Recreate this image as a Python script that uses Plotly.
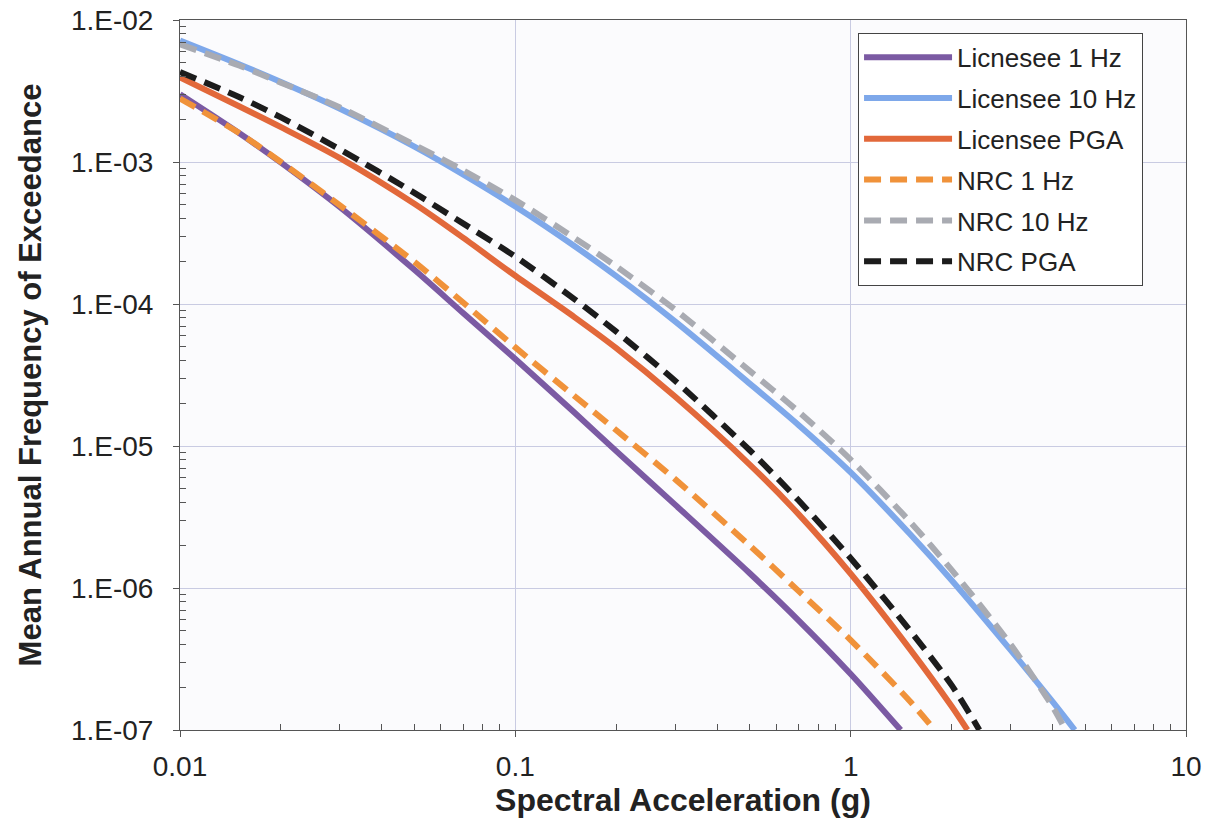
import plotly.graph_objects as go

# ---- data (Sa in g, mean annual frequency of exceedance) ----
x_lic_1hz = [0.01, 0.015, 0.02, 0.03, 0.05, 0.07, 0.1, 0.15, 0.2, 0.3, 0.5, 0.7, 1.0, 1.41]
y_lic_1hz = [3.0e-3, 1.6e-3, 9.9e-4, 4.8e-4, 1.74e-4, 8.6e-5, 4.1e-5, 1.72e-5, 9.2e-6,
             3.85e-6, 1.27e-6, 5.9e-7, 2.48e-7, 1.0e-7]

x_lic_10hz = [0.01, 0.015, 0.02, 0.03, 0.05, 0.07, 0.1, 0.15, 0.2, 0.3, 0.5, 0.7, 1.0, 1.5,
              2.0, 3.0, 4.0, 4.66]
y_lic_10hz = [7.17e-3, 4.88e-3, 3.66e-3, 2.37e-3, 1.284e-3, 8.15e-4, 4.86e-4, 2.56e-4, 1.57e-4,
              7.51e-5, 2.75e-5, 1.40e-5, 6.52e-6, 2.41e-6, 1.135e-6, 3.65e-7, 1.585e-7, 1.0e-7]

x_lic_pga = [0.01, 0.015, 0.02, 0.03, 0.05, 0.07, 0.1, 0.15, 0.2, 0.3, 0.5, 0.7, 1.0, 1.5,
             2.0, 2.23]
y_lic_pga = [3.94e-3, 2.47e-3, 1.76e-3, 1.065e-3, 5.08e-4, 2.92e-4, 1.58e-4, 8.09e-5, 4.89e-5,
             2.22e-5, 7.4e-6, 3.3e-6, 1.26e-6, 3.73e-7, 1.47e-7, 1.0e-7]

x_nrc_1hz = [0.01, 0.015, 0.02, 0.03, 0.05, 0.07, 0.1, 0.15, 0.2, 0.3, 0.5, 0.7, 1.0, 1.5, 1.78]
y_nrc_1hz = [2.8e-3, 1.6e-3, 1.0e-3, 4.95e-4, 1.98e-4, 1.02e-4, 4.95e-5, 2.25e-5, 1.29e-5,
             5.82e-6, 1.99e-6, 9.5e-7, 4.3e-7, 1.6e-7, 1.0e-7]

x_nrc_10hz = [0.01, 0.015, 0.02, 0.03, 0.05, 0.07, 0.1, 0.15, 0.2, 0.3, 0.5, 0.7, 1.0, 1.5,
              2.0, 3.0, 4.0, 4.37]
y_nrc_10hz = [6.74e-3, 4.78e-3, 3.62e-3, 2.42e-3, 1.32e-3, 8.72e-4, 5.39e-4, 2.92e-4, 1.84e-4,
              9.09e-5, 3.38e-5, 1.74e-5, 8.02e-6, 2.94e-6, 1.34e-6, 4.0e-7, 1.46e-7, 1.0e-7]

x_nrc_pga = [0.01, 0.015, 0.02, 0.03, 0.05, 0.07, 0.1, 0.15, 0.2, 0.3, 0.5, 0.7, 1.0, 1.5,
             2.0, 2.42]
y_nrc_pga = [4.3e-3, 2.87e-3, 2.06e-3, 1.226e-3, 6.06e-4, 3.68e-4, 2.156e-4, 1.082e-4, 6.38e-5,
             2.87e-5, 9.33e-6, 4.13e-6, 1.62e-6, 5.05e-7, 2.07e-7, 1.0e-7]

series_names = ["Licnesee 1 Hz", "Licensee 10 Hz", "Licensee PGA",
                "NRC 1 Hz", "NRC 10 Hz", "NRC PGA"]

x_tick_vals = [0.01, 0.1, 1, 10]
x_tick_text = ["0.01", "0.1", "1", "10"]
y_tick_vals = [1e-7, 1e-6, 1e-5, 1e-4, 1e-3, 1e-2]
y_tick_text = ["1.E-07", "1.E-06", "1.E-05", "1.E-04", "1.E-03", "1.E-02"]

# ---- styling ----
colors = ["#7b5aa3", "#7ea8ea", "#e2683a", "#f0923a", "#a9abb2", "#1c1c1c"]
dashes = ["solid", "solid", "solid", "17px,9px", "17px,9px", "17px,9px"]
xs_all = [x_lic_1hz, x_lic_10hz, x_lic_pga, x_nrc_1hz, x_nrc_10hz, x_nrc_pga]
ys_all = [y_lic_1hz, y_lic_10hz, y_lic_pga, y_nrc_1hz, y_nrc_10hz, y_nrc_pga]

FONT = "Liberation Sans, Arial, sans-serif"

fig = go.Figure()
for name, xs, ys, c, d in zip(series_names, xs_all, ys_all, colors, dashes):
    fig.add_trace(go.Scatter(
        x=xs, y=ys, mode="lines", name=name, legendgroup=name,
        line=dict(color=c, width=6, dash=d, shape="spline", smoothing=0.8),
    ))

x_minor = [k * 10.0 ** e for e in range(-2, 1) for k in range(2, 10)]
y_minor = [k * 10.0 ** e for e in range(-7, -2) for k in range(2, 10)]

axis_common = dict(
    type="log", showline=True, linecolor="#555", linewidth=1, mirror=True,
    showgrid=True, gridcolor="#c9cbe2", gridwidth=1,
    ticks="outside", ticklen=6, tickcolor="#555", tickwidth=1,
    tickfont=dict(family=FONT, size=28, color="#222"),
    zeroline=False, automargin=False,
)

fig.update_layout(
    width=1213, height=828,
    margin=dict(l=180, r=27, t=20, b=98),
    paper_bgcolor="white", plot_bgcolor="#fbfbfd",
    font=dict(family=FONT, color="#222"),
    xaxis=dict(
        **axis_common, range=[-2, 1],
        tickmode="array", tickvals=x_tick_vals, ticktext=x_tick_text,
        ticklabelstandoff=5,
        minor=dict(tickmode="array", tickvals=x_minor, ticks="inside", ticklen=6,
                   tickcolor="#555", showgrid=False),
        title=dict(text="<b>Spectral Acceleration (g)</b>", standoff=8,
                   font=dict(family=FONT, size=32, color="#222")),
    ),
    yaxis=dict(
        **axis_common, range=[-7, -2],
        tickmode="array", tickvals=y_tick_vals, ticktext=y_tick_text,
        ticklabelstandoff=14,
        minor=dict(tickmode="array", tickvals=y_minor, ticks="inside", ticklen=6,
                   tickcolor="#555", showgrid=False),
        title=dict(text="<b>Mean Annual Frequency of Exceedance</b>", standoff=20,
                   font=dict(family=FONT, size=31, color="#222")),
    ),
    legend=dict(
        x=0.674, y=0.982, xanchor="left", yanchor="top",
        bgcolor="white", bordercolor="#444", borderwidth=1,
        font=dict(family=FONT, size=26, color="#222"),
        tracegroupgap=4, itemwidth=88,
        entrywidth=205, entrywidthmode="pixels",
    ),
    showlegend=True,
)

fig.write_html("out.html", config={"displayModeBar": False},
               post_script="document.body.style.margin='0';")
